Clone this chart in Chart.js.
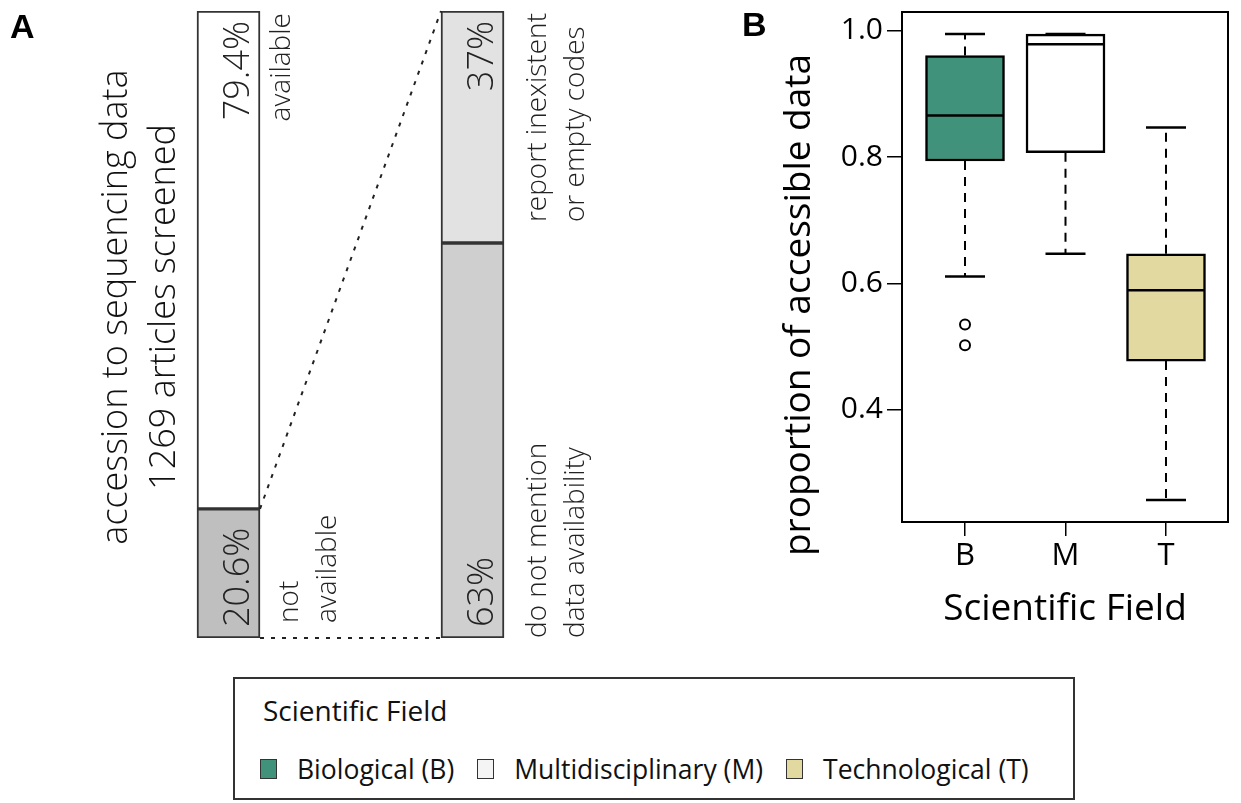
<!DOCTYPE html>
<html>
<head>
<meta charset="utf-8">
<script src="https://cdn.jsdelivr.net/npm/chart.js@4/dist/chart.umd.min.js"></script>
<style>
  body { margin: 0; width: 1241px; height: 803px; position: relative; overflow: hidden; background: #fff; font-family: "Open Sans", sans-serif; }
  #panel-a { position: absolute; left: 0; top: 0; }
  #panel-b { position: absolute; left: 700px; top: 0; }
  #legend { position: absolute; left: 233px; top: 677px; width: 842px; height: 123px; box-sizing: border-box;
            border: 2px solid #333; color: #111; background: #fff; }
  #legend .title { position: absolute; left: 28px; top: 12px; font-size: 28px; }
  #legend .items { position: absolute; left: 25px; top: 72px; display: flex; align-items: center; font-size: 26.5px; }
  #legend .swatch { width: 15px; height: 18px; border: 1.5px solid #333; margin-right: 20px; }
  #legend .item { display: flex; align-items: center; margin-right: 23px; }
</style>
</head>
<body>
<canvas id="panel-a" width="700" height="670"></canvas>
<canvas id="panel-b" width="541" height="670"></canvas>
<div id="legend"><div class="title">Scientific Field</div><div class="items" id="legend-items"></div></div>
<script>
// Panel A: what happened to the 1269 screened articles (lower segment first)
const screenGroups = ["all screened", "not available"];
const lowerShare = [20.6, 63];
const upperShare = [79.4, 37];
const lowerLabels = [["not", "available"], ["do not mention", "data availability"]];
const upperLabels = [["available"], ["report inexistent", "or empty codes"]];
const lowerColors = ["#bfbfbf", "#cfcfcf"];
const upperColors = ["#ffffff", "#e2e2e2"];

// Panel B: proportion of accessible data per scientific field (box plot stats)
const fieldCodes = ["B", "M", "T"];
const fieldNames = ["Biological (B)", "Multidisciplinary (M)", "Technological (T)"];
const fieldColors = ["#41927a", "#ffffff", "#e2d9a1"];
const whiskerLow = [0.611, 0.647, 0.257];
const quartile1 = [0.794, 0.807, 0.477];
const medians = [0.866, 0.979, 0.589];
const quartile3 = [0.961, 0.995, 0.647];
const whiskerHigh = [0.995, 0.995, 0.847];
const outlierField = [1, 1];
const outlierValues = [0.535, 0.502];
const yTickValues = [0.4, 0.6, 0.8, 1.0];

Chart.defaults.font.family = "'Open Sans', sans-serif";
Chart.defaults.color = "#000";

// text that reads bottom-to-top, anchored at (x, y)
function drawUp(ctx, text, x, y, align) {
  ctx.save();
  ctx.translate(x, y);
  ctx.rotate(-Math.PI / 2);
  ctx.textAlign = align;
  ctx.textBaseline = "alphabetic";
  ctx.fillText(text, 0, 0);
  ctx.restore();
}

function strokeLine(ctx, x1, y1, x2, y2) {
  ctx.beginPath();
  ctx.moveTo(x1, y1);
  ctx.lineTo(x2, y2);
  ctx.stroke();
}

const panelAText = {
  id: "panelAText",
  afterDatasetsDraw(chart) {
    const ctx = chart.ctx;
    const lower = chart.getDatasetMeta(0).data;
    const upper = chart.getDatasetMeta(1).data;

    // dashed lines "zooming" the not-available segment into the second bar
    ctx.save();
    ctx.strokeStyle = "#222";
    ctx.lineWidth = 2;
    ctx.setLineDash([4, 7]);
    const r0 = lower[0].x + lower[0].width / 2;
    strokeLine(ctx, r0, lower[0].y, upper[1].x - upper[1].width / 2, upper[1].y);
    strokeLine(ctx, r0, lower[0].base, lower[1].x - lower[1].width / 2, lower[1].base);
    ctx.restore();

    ctx.save();
    ctx.fillStyle = "#222";
    const lineOffset = [[38, 30], [42, 42]]; // [lower, upper] first-line offset from bar edge
    screenGroups.forEach((g, i) => {
      const right = lower[i].x + lower[i].width / 2;
      ctx.font = "300 36px 'Open Sans'";
      drawUp(ctx, lowerShare[i] + "%", right - 11, lower[i].base - 11, "left");
      drawUp(ctx, upperShare[i] + "%", right - 11, upper[i].y + 10, "right");

      ctx.font = "300 28px 'Open Sans'";
      lowerLabels[i].forEach((t, k) => {
        drawUp(ctx, t, right + lineOffset[i][0] + k * 38, lower[i].base - (i === 0 ? 15 : 0), "left");
      });
      const widest = Math.max(...upperLabels[i].map((t) => ctx.measureText(t).width));
      upperLabels[i].forEach((t, k) => {
        drawUp(ctx, t, right + lineOffset[i][1] + k * 38, upper[i].y + widest + 2, "left");
      });
    });

    ctx.font = "300 36px 'Open Sans'";
    ctx.fillStyle = "#111";
    ctx.save();
    ctx.translate(0, 307);
    ctx.rotate(-Math.PI / 2);
    ctx.textAlign = "center";
    ctx.fillText("accession to sequencing data", 0, 127);
    ctx.fillText("1269 articles screened", 0, 175);
    ctx.restore();

    ctx.font = "bold 34px 'Liberation Sans'";
    ctx.fillStyle = "#000";
    ctx.textAlign = "left";
    ctx.fillText("A", 10, 38);
    ctx.restore();
  },
};

new Chart(document.getElementById("panel-a"), {
  type: "bar",
  data: {
    datasets: [
      { data: lowerShare.map((v, i) => ({ x: i + 1, y: v })), backgroundColor: lowerColors },
      { data: upperShare.map((v, i) => ({ x: i + 1, y: v })), backgroundColor: upperColors },
    ].map((ds) => ({ ...ds, borderColor: "#333", borderWidth: 2, borderSkipped: false, barThickness: 63 })),
  },
  options: {
    responsive: false,
    animation: false,
    layout: { padding: { top: 11, bottom: 32 } },
    scales: {
      x: { type: "linear", stacked: true, display: false, offset: false, min: 0.0635, max: 2.9324 },
      y: { stacked: true, display: false, min: 0, max: 100 },
    },
    plugins: { legend: { display: false }, tooltip: { enabled: false } },
  },
  plugins: [panelAText],
});

const boxExtras = {
  id: "boxExtras",
  afterDatasetsDraw(chart) {
    const { ctx, chartArea } = chart;
    const x = chart.scales.x;
    const y = chart.scales.y;
    const boxes = chart.getDatasetMeta(0).data;
    ctx.save();
    ctx.strokeStyle = "#000";
    fieldCodes.forEach((code, i) => {
      const cx = x.getPixelForValue(i + 1);
      const half = boxes[i].width / 2;
      ctx.setLineDash([]);
      ctx.lineWidth = 2.5;
      strokeLine(ctx, cx - half + 1, y.getPixelForValue(medians[i]), cx + half - 1, y.getPixelForValue(medians[i]));
      ctx.lineWidth = 2;
      ctx.setLineDash([9, 7]);
      strokeLine(ctx, cx, y.getPixelForValue(quartile3[i]), cx, y.getPixelForValue(whiskerHigh[i]));
      strokeLine(ctx, cx, y.getPixelForValue(quartile1[i]), cx, y.getPixelForValue(whiskerLow[i]));
      ctx.setLineDash([]);
      ctx.lineWidth = 2.5;
      strokeLine(ctx, cx - 20, y.getPixelForValue(whiskerHigh[i]), cx + 20, y.getPixelForValue(whiskerHigh[i]));
      strokeLine(ctx, cx - 20, y.getPixelForValue(whiskerLow[i]), cx + 20, y.getPixelForValue(whiskerLow[i]));
    });
    ctx.lineWidth = 2;
    ctx.strokeRect(chartArea.left, chartArea.top, chartArea.width, chartArea.height);

    ctx.fillStyle = "#000";
    ctx.font = "37px 'Open Sans'";
    ctx.textAlign = "center";
    ctx.fillText("Scientific Field", (chartArea.left + chartArea.right) / 2, 620);
    drawUp(ctx, "proportion of accessible data", 110, 305, "center");
    ctx.font = "bold 34px 'Liberation Sans'";
    ctx.textAlign = "left";
    ctx.fillText("B", 42, 36);
    ctx.restore();
  },
};

new Chart(document.getElementById("panel-b"), {
  type: "bar",
  data: {
    datasets: [
      {
        data: fieldCodes.map((c, i) => ({ x: i + 1, y: [quartile1[i], quartile3[i]] })),
        backgroundColor: fieldColors,
        borderColor: "#000",
        borderWidth: 2.5,
        borderSkipped: false,
        barThickness: 79,
      },
      {
        type: "scatter",
        data: outlierValues.map((v, i) => ({ x: outlierField[i], y: v })),
        pointRadius: 5,
        borderWidth: 2,
        borderColor: "#000",
        backgroundColor: "rgba(0,0,0,0)",
      },
    ],
  },
  options: {
    responsive: false,
    animation: false,
    layout: { padding: { top: 12, right: 13 } },
    scales: {
      x: {
        type: "linear", min: 0.373, max: 3.617, offset: false,
        afterBuildTicks: (s) => { s.ticks = fieldCodes.map((c, i) => ({ value: i + 1 })); },
        afterFit: (s) => { s.height = 148; s.paddingLeft = 0; s.paddingRight = 0; },
        ticks: { callback: (v) => fieldCodes[v - 1], font: { size: 31 }, padding: 2, maxRotation: 0 },
        grid: { drawOnChartArea: false, offset: false, tickLength: 14, color: "#000", lineWidth: 1.5 },
        border: { display: false },
      },
      y: {
        min: 0.222, max: 1.030,
        afterBuildTicks: (s) => { s.ticks = yTickValues.map((v) => ({ value: v })); },
        afterFit: (s) => { s.width = 202; s.paddingTop = 0; s.paddingBottom = 0; },
        ticks: { callback: (v) => v.toFixed(1), font: { size: 30 }, padding: 4 },
        grid: { drawOnChartArea: false, tickLength: 15, color: "#000", lineWidth: 1.5 },
        border: { display: false },
      },
    },
    plugins: { legend: { display: false }, tooltip: { enabled: false } },
  },
  plugins: [boxExtras],
});

const legendItems = document.getElementById("legend-items");
fieldNames.forEach((name, i) => {
  const item = document.createElement("span");
  item.className = "item";
  const swatch = document.createElement("span");
  swatch.className = "swatch";
  swatch.style.background = i === 1 ? "#f4f4f4" : fieldColors[i];
  item.appendChild(swatch);
  item.appendChild(document.createTextNode(name));
  legendItems.appendChild(item);
});
</script>
</body>
</html>
